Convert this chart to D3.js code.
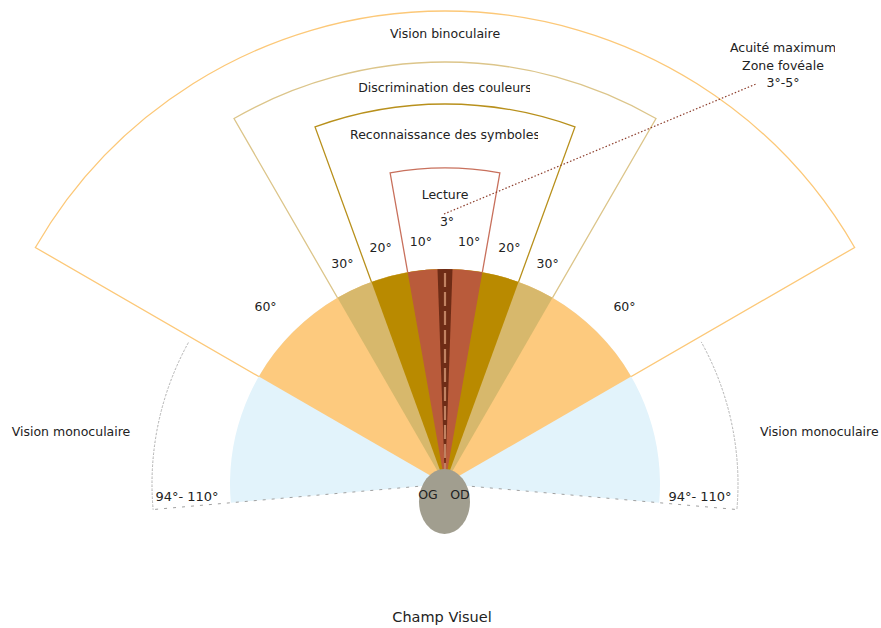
<!DOCTYPE html>
<html>
<head>
<meta charset="utf-8">
<script src="https://cdn.jsdelivr.net/npm/d3@7/dist/d3.min.js"></script>
<style>
  body { margin: 0; background: #fff; }
  svg text { font-family: "DejaVu Sans", Verdana, sans-serif; fill: #222; }
</style>
</head>
<body>
<svg id="chart" width="881" height="628"></svg>
<script>
// half-angles (degrees) of the filled field zones, widest first
var fillZones = ["monoculaire", "binoculaire", "couleurs", "symboles", "lecture", "fovea"];
var fillAngles = [95, 60, 30, 20, 10, 2];

// outlined zones with their titles
var frameNames = ["Vision binoculaire", "Discrimination des couleurs", "Reconnaissance des symboles", "Lecture"];
var frameAngles = [60, 30, 20, 10];

// angle ticks written between the zone limits
var tickAngles = [10, 20, 30, 60];
var tickLabels = ["10°", "20°", "30°", "60°"];

var monoLabel = "Vision monoculaire";
var monoAngle = 95;
var monoRangeLabel = "94°- 110°";
var lectureNote = "3°";
var foveaNote = ["Acuité maximum", "Zone fovéale", "3°-5°"];
var eyeLabels = ["OG", "OD"];
var title = "Champ Visuel";

// ---- layout ----
var svg = d3.select("#chart");
var cx = 445, cy = 484;
var fillR = 215;
var frameR = [473, 422, 380, 316];
var frameTitleDy = [23, 26, 31, 27];
var tickR = [243, 245, 243, 251];
var tickDx = [3, 1, 0, 2];
var dottedR = 293;

var fillColors = {
  monoculaire: "#e2f3fb", binoculaire: "#fdca7e", couleurs: "#d7b86c",
  symboles: "#b98a00", lecture: "#b95b3b", fovea: "#6e2c16"
};
var frameColors = ["#fcc878", "#dcc58a", "#b8901c", "#c8705c"];

var ang = d3.scaleLinear().domain([-180, 180]).range([-Math.PI, Math.PI]);

var g = svg.append("g").attr("transform", "translate(" + cx + "," + cy + ")");

function pt(deg, r) {
  return [r * Math.sin(ang(deg)), -r * Math.cos(ang(deg))];
}

// outlined sectors
var frameArc = d3.arc().innerRadius(0);
g.selectAll(".frame")
  .data(frameAngles)
  .enter().append("path")
  .attr("class", "frame")
  .attr("d", function(d, i) {
    return frameArc({ startAngle: ang(-d), endAngle: ang(d), outerRadius: frameR[i] });
  })
  .attr("fill", "none")
  .attr("stroke", function(d, i) { return frameColors[i]; })
  .attr("stroke-width", 1.3);

// filled sectors
var fillArc = d3.arc().innerRadius(0).outerRadius(fillR);
g.selectAll(".zone")
  .data(fillAngles)
  .enter().append("path")
  .attr("class", "zone")
  .attr("d", function(d) { return fillArc({ startAngle: ang(-d), endAngle: ang(d) }); })
  .attr("fill", function(d, i) { return fillColors[fillZones[i]]; });

// centre line of the fovea
g.append("line")
  .attr("x1", 0).attr("y1", -fillR + 4).attr("x2", 0).attr("y2", 0)
  .attr("stroke", "#c08262").attr("stroke-width", 2.2)
  .attr("stroke-dasharray", "14,5");

// dotted monocular limits
[-1, 1].forEach(function(s) {
  var a0 = s < 0 ? ang(-monoAngle) : ang(61);
  var a1 = s < 0 ? ang(-61) : ang(monoAngle);
  g.append("path")
    .attr("d", d3.arc()({ innerRadius: dottedR, outerRadius: dottedR, startAngle: a0, endAngle: a1 }))
    .attr("fill", "none").attr("stroke", "#9a9a9a").attr("stroke-width", 1)
    .attr("stroke-dasharray", "1,3");
  var p = pt(s * monoAngle, dottedR);
  g.append("line")
    .attr("x1", 0).attr("y1", 0).attr("x2", p[0]).attr("y2", p[1])
    .attr("stroke", "#a0a0a0").attr("stroke-width", 1)
    .attr("stroke-dasharray", "3,6");
});

// eyes
svg.append("ellipse")
  .attr("cx", 444.5).attr("cy", 501.5).attr("rx", 25.5).attr("ry", 32.5)
  .attr("fill", "#a19e8f");

svg.selectAll(".eye")
  .data(eyeLabels)
  .enter().append("text")
  .attr("class", "eye")
  .attr("x", function(d, i) { return i === 0 ? 428 : 460; })
  .attr("y", 499)
  .attr("text-anchor", "middle")
  .style("font-size", "12.5px")
  .text(function(d) { return d; });

// clip boxes for the truncated captions
var defs = svg.append("defs");
function clipRight(id, xMax) {
  defs.append("clipPath").attr("id", id)
    .append("rect").attr("x", 0).attr("y", 0).attr("width", xMax).attr("height", 628);
  return "url(#" + id + ")";
}
var frameClip = [null, clipRight("c1", 530), clipRight("c2", 538), null];

// zone titles
frameNames.forEach(function(name, i) {
  svg.append("text")
    .attr("x", cx)
    .attr("y", cy - frameR[i] + frameTitleDy[i])
    .attr("dy", "0.35em")
    .attr("text-anchor", "middle")
    .attr("clip-path", frameClip[i])
    .style("font-size", "12.5px")
    .text(name);
});

svg.append("text")
  .attr("x", 447).attr("y", 222).attr("dy", "0.35em")
  .attr("text-anchor", "middle")
  .style("font-size", "12.5px")
  .text(lectureNote);

// angle ticks, each halfway between its limit and the previous one
tickAngles.forEach(function(a, i) {
  var mid = (a + (i === 0 ? 0 : tickAngles[i - 1])) / 2;
  [-1, 1].forEach(function(s) {
    var p = pt(s * mid, tickR[i]);
    g.append("text")
      .attr("x", p[0] + s * tickDx[i]).attr("y", p[1])
      .attr("dy", "0.35em")
      .attr("text-anchor", "middle")
      .style("font-size", "12.5px")
      .text(tickLabels[i]);
  });
});

// monocular labels
svg.append("text").attr("x", 71).attr("y", 432).attr("dy", "0.35em")
  .attr("text-anchor", "middle").style("font-size", "12.5px").text(monoLabel);
svg.append("text").attr("x", 760).attr("y", 432).attr("dy", "0.35em")
  .attr("text-anchor", "start").style("font-size", "12.5px").text(monoLabel);
svg.append("text").attr("x", 187).attr("y", 496).attr("dy", "0.35em")
  .attr("text-anchor", "middle").style("font-size", "13px").text(monoRangeLabel);
svg.append("text").attr("x", 700).attr("y", 496).attr("dy", "0.35em")
  .attr("text-anchor", "middle").style("font-size", "13px").text(monoRangeLabel);

// fovea note and its leader
svg.append("line")
  .attr("x1", 444).attr("y1", 214).attr("x2", 756).attr("y2", 84)
  .attr("stroke", "#8d3e2c").attr("stroke-width", 1.2)
  .attr("stroke-dasharray", "1.5,2");

var noteClip = clipRight("c3", 835);
foveaNote.forEach(function(t, i) {
  svg.append("text")
    .attr("x", 783).attr("y", 48 + i * 17.5).attr("dy", "0.35em")
    .attr("text-anchor", "middle")
    .attr("clip-path", i === 0 ? noteClip : null)
    .style("font-size", "12.5px")
    .text(t);
});

svg.append("text")
  .attr("x", 442).attr("y", 617).attr("dy", "0.35em")
  .attr("text-anchor", "middle")
  .style("font-size", "14.5px")
  .text(title);
</script>
</body>
</html>
